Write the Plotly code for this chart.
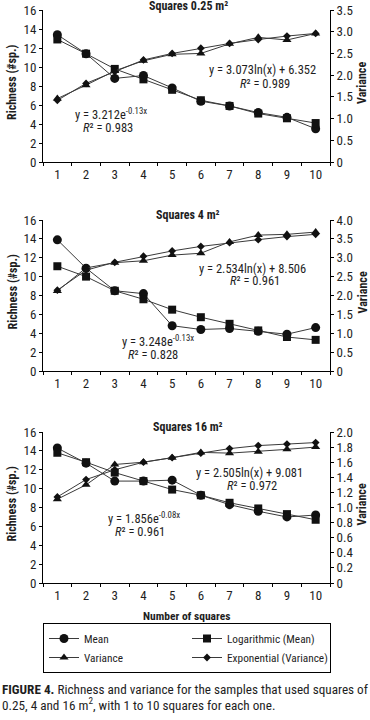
import plotly.graph_objects as go

W, H = 370, 720

squares = ["1", "2", "3", "4", "5", "6", "7", "8", "9", "10"]

# Squares 0.25 m2
mean_025 = [13.4, 11.4, 8.8, 9.1, 7.8, 6.4, 5.9, 5.2, 4.7, 3.5]
log_025 = [12.9, 11.4, 9.8, 8.7, 7.6, 6.5, 5.9, 5.1, 4.6, 4.1]
var_025 = [1.46, 1.77, 2.10, 2.33, 2.48, 2.50, 2.72, 2.87, 2.81, 2.96]
exp_025 = [1.42, 1.81, 2.08, 2.35, 2.50, 2.62, 2.73, 2.82, 2.90, 2.96]

# Squares 4 m2
mean_4 = [13.9, 10.9, 8.5, 8.2, 4.8, 4.4, 4.5, 4.2, 3.9, 4.6]
log_4 = [11.1, 10.0, 8.5, 7.6, 6.5, 5.7, 5.0, 4.3, 3.6, 3.3]
var_4 = [2.12, 2.73, 2.87, 2.92, 3.07, 3.12, 3.42, 3.60, 3.62, 3.68]
exp_4 = [2.14, 2.67, 2.88, 3.04, 3.18, 3.30, 3.40, 3.48, 3.56, 3.62]

# Squares 16 m2
mean_16 = [14.3, 12.7, 10.8, 10.8, 10.9, 9.3, 8.3, 7.6, 7.0, 7.2]
log_16 = [13.8, 12.8, 11.7, 10.8, 9.9, 9.3, 8.5, 7.9, 7.3, 6.7]
var_16 = [1.11, 1.30, 1.57, 1.60, 1.66, 1.73, 1.72, 1.74, 1.77, 1.80]
exp_16 = [1.14, 1.37, 1.50, 1.60, 1.66, 1.72, 1.78, 1.82, 1.84, 1.86]

left_ticks = [0, 2, 4, 6, 8, 10, 12, 14, 16]
right_ticks_025 = [0, 0.5, 1.0, 1.5, 2.0, 2.5, 3.0, 3.5]
right_labels_025 = ["0", "0.5", "1.0", "1.5", "2.0", "2.5", "3.0", "3.5"]
right_ticks_4 = [0, 0.5, 1.0, 1.5, 2.0, 2.5, 3.0, 3.5, 4.0]
right_labels_4 = ["0", "0.5", "1.0", "1.5", "2.0", "2.5", "3.0", "3.5", "4.0"]
right_ticks_16 = [0, 0.2, 0.4, 0.6, 0.8, 1.0, 1.2, 1.4, 1.6, 1.8, 2.0]
right_labels_16 = ["0", "0.2", "0.4", "0.6", "0.8", "1.0", "1.2", "1.4", "1.6", "1.8", "2.0"]

titles = ["Squares 0.25 m²", "Squares 4 m²", "Squares 16 m²"]
equations = [
    ("y = 3.073ln(x) + 6.352", "<i>R</i>² = 0.989", "y = 3.212e<sup>-0.13x</sup>", "<i>R</i>² = 0.983"),
    ("y = 2.534ln(x) + 8.506", "<i>R</i>² = 0.961", "y = 3.248e<sup>-0.13x</sup>", "<i>R</i>² = 0.828"),
    ("y = 2.505ln(x) + 9.081", "<i>R</i>² = 0.972", "y = 1.856e<sup>-0.08x</sup>", "<i>R</i>² = 0.961"),
]
caption_lines = [
    "<b>FIGURE 4.</b> Richness and variance for the samples that used squares of",
    "0.25, 4 and 16 m<sup>2</sup>, with 1 to 10 squares for each one.",
]

FONT = "Liberation Sans Narrow, Arial Narrow, Roboto Condensed, Liberation Sans, sans-serif"
TXT = "#1e1e1e"
LINE = "#3a3a3a"
TICK = 13


def px(x):
    return x / W


def py(y):
    return 1 - y / H


panels = [
    dict(top=10, bottom=162, mean=mean_025, log=log_025, var=var_025, exp=exp_025,
         rt=right_ticks_025, rl=right_labels_025, rmax=3.5, title_y=6,
         eq_pos=((318, 70, "right"), (265, 83, "center"), (73, 114, "left"), (108, 127, "center"))),
    dict(top=220, bottom=371, mean=mean_4, log=log_4, var=var_4, exp=exp_4,
         rt=right_ticks_4, rl=right_labels_4, rmax=4.0, title_y=215,
         eq_pos=((308, 268, "right"), (255, 281, "center"), (120, 341, "left"), (153, 354, "center"))),
    dict(top=432, bottom=583, mean=mean_16, log=log_16, var=var_16, exp=exp_16,
         rt=right_ticks_16, rl=right_labels_16, rmax=2.0, title_y=427,
         eq_pos=((305, 472, "right"), (252, 485, "center"), (106, 518, "left"), (140, 531, "center"))),
]

fig = go.Figure()
layout = dict(
    width=W, height=H,
    margin=dict(l=0, r=0, t=0, b=0),
    template="none",
    paper_bgcolor="white", plot_bgcolor="rgba(0,0,0,0)",
    font=dict(family=FONT, size=12, color=TXT),
    showlegend=True,
)
annotations = []

xdom = [px(43), px(330)]
for i, p in enumerate(panels):
    xa = "x" if i == 0 else f"x{i+1}"
    yl = f"y{2*i+1}" if i > 0 else "y"
    yr = f"y{2*i+2}"
    xa_key = "xaxis" if i == 0 else f"xaxis{i+1}"
    yl_key = "yaxis" if i == 0 else f"yaxis{2*i+1}"
    yr_key = f"yaxis{2*i+2}"
    ydom = [py(p["bottom"]), py(p["top"])]
    common = dict(ticks="outside", ticklen=3, tickwidth=1, tickcolor="black",
                  showline=True, linecolor="black", linewidth=1, showgrid=False,
                  zeroline=False, tickfont=dict(size=TICK, color=TXT))
    layout[xa_key] = dict(domain=xdom, anchor=yl, type="category", tickson="boundaries",
                          range=[-0.5, 9.5], **common)
    layout[yl_key] = dict(domain=ydom, anchor=xa, range=[0, 16], tickvals=left_ticks, **common)
    layout[yr_key] = dict(domain=ydom, anchor=xa, overlaying=yl, side="right",
                          range=[0, p["rmax"]], tickvals=p["rt"], ticktext=p["rl"], **common)
    show = i == 0
    fig.add_trace(go.Scatter(x=squares, y=p["mean"], name="Mean", mode="lines+markers",
                             xaxis=xa, yaxis=yl, showlegend=show, legendrank=1, legendwidth=69,
                             line=dict(color=LINE, width=1),
                             marker=dict(symbol="circle", size=9, color="#111")))
    fig.add_trace(go.Scatter(x=squares, y=p["log"], name="Logarithmic (Mean)", mode="lines+markers",
                             xaxis=xa, yaxis=yl, showlegend=show, legendrank=2, legendwidth=98,
                             line=dict(color=LINE, width=1),
                             marker=dict(symbol="square", size=8, color="#111")))
    fig.add_trace(go.Scatter(x=squares, y=p["var"], name="Variance", mode="lines+markers",
                             xaxis=xa, yaxis=yr, showlegend=show, legendrank=3, legendwidth=69,
                             line=dict(color=LINE, width=1),
                             marker=dict(symbol="triangle-up", size=8, color="#111")))
    fig.add_trace(go.Scatter(x=squares, y=p["exp"], name="Exponential (Variance)", mode="lines+markers",
                             xaxis=xa, yaxis=yr, showlegend=show, legendrank=4, legendwidth=98,
                             line=dict(color=LINE, width=1),
                             marker=dict(symbol="diamond", size=6, color="#111")))
    annotations.append(dict(text=f"<b>{titles[i]}</b>", x=px(188), y=py(p["title_y"]),
                            xref="paper", yref="paper", showarrow=False,
                            xanchor="center", yanchor="middle", font=dict(size=12, color=TXT)))
    mid = (p["top"] + p["bottom"]) / 2
    annotations.append(dict(text="<b>Richness (#sp.)</b>", x=px(12), y=py(mid - 3),
                            xref="paper", yref="paper", showarrow=False, textangle=-90,
                            xanchor="center", yanchor="middle", font=dict(size=12, color=TXT)))
    annotations.append(dict(text="<b>Variance</b>", x=px(362), y=py(mid - 3),
                            xref="paper", yref="paper", showarrow=False, textangle=-90,
                            xanchor="center", yanchor="middle", font=dict(size=12, color=TXT)))
    for txt, (ex, ey, anc) in zip(equations[i], p["eq_pos"]):
        annotations.append(dict(text=txt, x=px(ex), y=py(ey), xref="paper", yref="paper",
                                showarrow=False, xanchor=anc, yanchor="middle",
                                font=dict(size=12.5, color=TXT)))

annotations.append(dict(text="<b>Number of squares</b>", x=px(186), y=py(616),
                        xref="paper", yref="paper", showarrow=False,
                        xanchor="center", yanchor="middle", font=dict(size=11.5, color=TXT)))
for line_text, ly in zip(caption_lines, [689.5, 703.5]):
    annotations.append(dict(text=line_text, x=px(0), y=py(ly), xref="paper", yref="paper",
                            showarrow=False, xanchor="left", yanchor="middle", align="left",
                            font=dict(size=13.2, color=TXT)))

layout["annotations"] = annotations
layout["legend"] = dict(
    x=px(43), y=py(648), xanchor="left", yanchor="middle", orientation="h",
    bordercolor="black", borderwidth=1, bgcolor="white",
    entrywidth=69, entrywidthmode="pixels", itemwidth=30,
    font=dict(size=11.3, color=TXT), tracegroupgap=0,
)
fig.update_layout(**layout)
fig.write_html("out.html", config={"displayModeBar": False},
               post_script="document.body.style.margin='0px';")
